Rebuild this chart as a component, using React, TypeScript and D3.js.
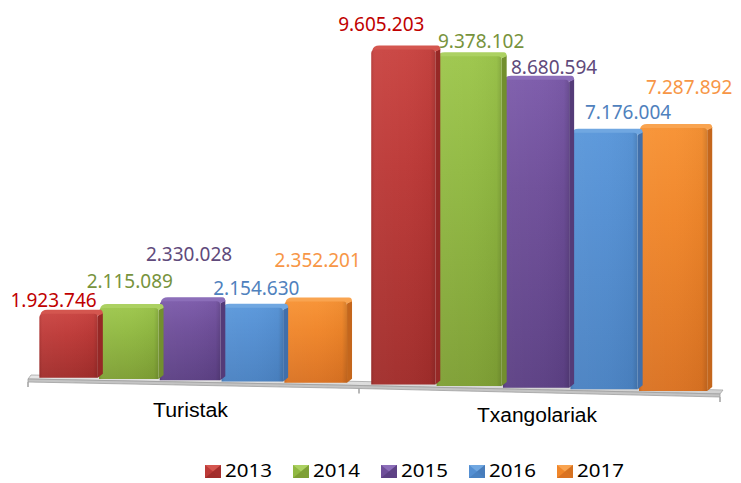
import React from "react";
import * as d3 from "d3";

const categories = ["Turistak", "Txangolariak"];
const years = ["2013", "2014", "2015", "2016", "2017"];
const values2013 = [1923746, 9605203];
const values2014 = [2115089, 9378102];
const values2015 = [2330028, 8680594];
const values2016 = [2154630, 7176004];
const values2017 = [2352201, 7287892];
const series = [values2013, values2014, values2015, values2016, values2017];

// layout / style (not data)
const W = 741;
const H = 483;
const labelColors = ["#C00000", "#77933C", "#604A7B", "#4F81BD", "#F79646"];
const faceColors = [
  { top: "#C94441", mid: "#BC3937", bot: "#A12D2B", side: "#962826", cap: "#D4564F" },
  { top: "#9DC64C", mid: "#91B942", bot: "#7E9F34", side: "#728F2E", cap: "#ACD162" },
  { top: "#7C5BAA", mid: "#6F4F9A", bot: "#5C4084", side: "#543B78", cap: "#8C6EB9" },
  { top: "#5A97DA", mid: "#548FD2", bot: "#4A82C2", side: "#416FAA", cap: "#70A7E1" },
  { top: "#F79234", mid: "#F0862A", bot: "#DA7222", side: "#C4661C", cap: "#F9A450" },
];
// label offsets relative to bar top centre: [dx, dy]
const labelOffsets = [
  [[-15, -7], [1, -20], [-1, -40], [4, -13], [2, -35]],
  [[-22, -19], [12, -8], [18, -6], [24, -14], [16, -34]],
];

const fmt = d3.formatLocale({ decimal: ",", thousands: ".", grouping: [3], currency: ["", ""] }).format(",d");

// perspective warp of the horizontal axis
const xPix = (u: number) => 28 + 692 * (0.912 * u + 0.088 * u * u);
const persp = (u: number) => 0.94 + 0.09 * u;
const base = d3.scaleLinear().domain([28, 359, 720]).range([377, 383.5, 392]);
const yScale = d3.scaleLinear().domain([0, 10000000]).range([0, 352]);

const xGroup = d3.scaleBand<string>().domain(categories).range([0, 1]).padding(0);

export default function App() {
  const depthX = 5;
  const depthY = 4;
  const bars: any[] = [];
  categories.forEach((cat, ci) => {
    const g0 = xGroup(cat)!;
    const gw = xGroup.bandwidth();
    const inner = d3.scaleBand<string>().domain(years).range([g0 + 0.018, g0 + gw - 0.017]).paddingInner(0.02);
    years.forEach((yr, yi) => {
      const u0 = inner(yr)!;
      const u1 = u0 + inner.bandwidth();
      const uc = (u0 + u1) / 2;
      const x0 = xPix(u0);
      const x1 = xPix(u1);
      const xc = (x0 + x1) / 2;
      const yb = base(xc);
      const h = yScale(series[yi][ci]) * persp(uc);
      const yt = yb - h;
      bars.push({ ci, yi, x0, x1, xc, yb, yt, v: series[yi][ci] });
    });
  });

  const floorXs = d3.range(28, 721, 4);
  const backEdge = floorXs.map((x) => [x + 3, base(x) - 2]);
  const frontEdge = floorXs.map((x) => [x, base(x) + 2]);
  const frontBottom = floorXs.map((x) => [x, base(x) + 5]);
  const topPoly = "M" + backEdge.concat(frontEdge.slice().reverse()).map((p) => p.join(",")).join("L") + "Z";
  const frontPoly = "M" + frontEdge.concat(frontBottom.slice().reverse()).map((p) => p.join(",")).join("L") + "Z";

  const roundTop = (x0: number, x1: number, yt: number, yb: number, r: number) =>
    `M${x0},${yb}L${x0},${yt + r}Q${x0},${yt} ${x0 + r},${yt}L${x1 - r},${yt}Q${x1},${yt} ${x1},${yt + r}L${x1},${yb}Z`;

  const drawOrder = bars.slice().sort((a, b) => (a.ci !== b.ci ? b.ci - a.ci : b.yi - a.yi));

  const legendX = d3.scaleLinear().domain([0, 4]).range([205, 557]);

  return (
    <svg width={W} height={H} style={{ position: "absolute", left: 0, top: 0, background: "#fff" }}>
      <defs>
        {faceColors.map((c, i) => (
          <linearGradient key={i} id={`front${i}`} x1="0" y1="0" x2="0" y2="1">
            <stop offset="0" stopColor={c.top} />
            <stop offset="0.35" stopColor={c.mid} />
            <stop offset="1" stopColor={c.bot} />
          </linearGradient>
        ))}
        <linearGradient id="shadeH" x1="0" y1="0" x2="1" y2="0">
          <stop offset="0" stopColor="#000" stopOpacity={0.1} />
          <stop offset="0.06" stopColor="#fff" stopOpacity={0.04} />
          <stop offset="0.5" stopColor="#fff" stopOpacity={0.02} />
          <stop offset="0.92" stopColor="#000" stopOpacity={0.03} />
          <stop offset="1" stopColor="#000" stopOpacity={0.14} />
        </linearGradient>
        <linearGradient id="floorTop" x1="0" y1="0" x2="0" y2="1">
          <stop offset="0" stopColor="#E8E8E8" />
          <stop offset="1" stopColor="#CFCFCF" />
        </linearGradient>
      </defs>

      {/* floor */}
      <path d={topPoly} fill="url(#floorTop)" stroke="#A6A6A6" strokeWidth={0.8} />
      <path d={frontPoly} fill="#C4C4C4" stroke="#A0A0A0" strokeWidth={0.8} />
      {[28, 359, 720].map((x, i) => (
        <line key={i} x1={x} x2={x} y1={base(x) + 5} y2={base(x) + 10} stroke="#A0A0A0" strokeWidth={1.5} />
      ))}

      {/* bars */}
      {drawOrder.map((b, i) => {
        const c = faceColors[b.yi];
        const side = `M${b.x1},${b.yt + 2}L${b.x1 + depthX},${b.yt - depthY + 3}L${b.x1 + depthX},${b.yb - depthY}L${b.x1},${b.yb}Z`;
        const cap = `M${b.x0 + 1},${b.yt + 1}Q${b.x0 + 2},${b.yt - depthY} ${b.x0 + depthX + 3},${b.yt - depthY}L${b.x1 + depthX - 3},${b.yt - depthY}Q${b.x1 + depthX},${b.yt - depthY} ${b.x1 + depthX},${b.yt - depthY + 4}L${b.x1},${b.yt + 2}Z`;
        return (
          <g key={i}>
            <path d={side} fill={c.side} />
            <path d={cap} fill={c.cap} />
            <path d={roundTop(b.x0, b.x1, b.yt, b.yb, 4)} fill={`url(#front${b.yi})`} />
            <path d={roundTop(b.x0, b.x1, b.yt, b.yb, 4)} fill="url(#shadeH)" />
          </g>
        );
      })}

      {/* data labels */}
      {bars.map((b, i) => {
        const [dx, dy] = labelOffsets[b.ci][b.yi];
        return (
          <text key={i} x={b.xc + dx} y={b.yt + dy} textAnchor="middle" fill={labelColors[b.yi]}
            style={{ fontFamily: "'Noto Sans', 'Open Sans', sans-serif", fontSize: 19 }}>
            {fmt(b.v)}
          </text>
        );
      })}

      {/* category labels */}
      <text x={190.5} y={417} textAnchor="middle" textLength={75} lengthAdjust="spacingAndGlyphs"
        style={{ fontFamily: "'Liberation Sans', Arial, sans-serif", fontSize: 20 }} fill="#000">
        {categories[0]}
      </text>
      <text x={537} y={422} textAnchor="middle" textLength={120} lengthAdjust="spacingAndGlyphs"
        style={{ fontFamily: "'Liberation Sans', Arial, sans-serif", fontSize: 20 }} fill="#000">
        {categories[1]}
      </text>

      {/* legend */}
      {years.map((yr, i) => {
        const x = legendX(i);
        const c = faceColors[i];
        const y = 465;
        const w = 16;
        const h = 13;
        return (
          <g key={yr}>
            <rect x={x} y={y} width={w} height={h} fill={c.mid} />
            <path d={`M${x},${y}L${x + w},${y}L${x + w / 2},${y + h / 2}Z`} fill={c.cap} />
            <path d={`M${x},${y + h}L${x + w},${y + h}L${x + w / 2},${y + h / 2}Z`} fill={c.bot} />
            <path d={`M${x + w},${y}L${x + w},${y + h}L${x + w / 2},${y + h / 2}Z`} fill={c.side} opacity={0.6} />
            <text x={x + 20} y={477} textLength={47} lengthAdjust="spacingAndGlyphs"
              style={{ fontFamily: "'Noto Sans', 'Open Sans', sans-serif", fontSize: 18 }} fill="#000">
              {yr}
            </text>
          </g>
        );
      })}
    </svg>
  );
}
